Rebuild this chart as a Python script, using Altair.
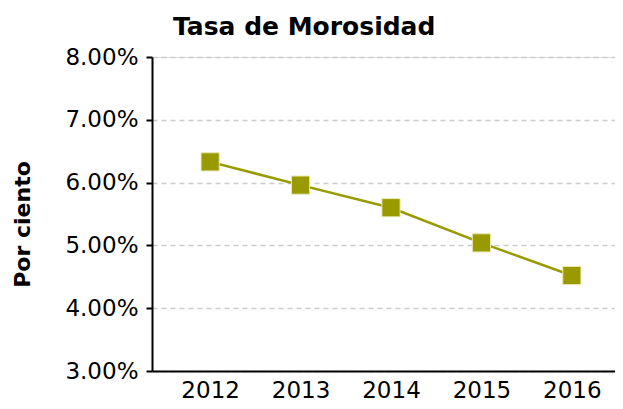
import altair as alt
import pandas as pd

years = ["2012", "2013", "2014", "2015", "2016"]
tasa = [0.0633, 0.0596, 0.0560, 0.0504, 0.0452]

df = pd.DataFrame({"Año": years, "Tasa": tasa})

FONT = "DejaVu Sans"
OLIVE = "#999900"

base = alt.Chart(df).encode(
    x=alt.X(
        "Año:O",
        scale=alt.Scale(type="point", padding=0.56, align=0.574),
        axis=alt.Axis(
            title=None, labelAngle=0, ticks=False, grid=False,
            domainColor="#000000", domainWidth=2,
            labelFontSize=23, labelFont=FONT, labelColor="#000000",
            labelPadding=8,
        ),
    ),
    y=alt.Y(
        "Tasa:Q",
        scale=alt.Scale(domain=[0.03, 0.08], nice=False, zero=False),
        axis=alt.Axis(
            title="Por ciento", format=".2%", values=[0.03, 0.04, 0.05, 0.06, 0.07, 0.08],
            grid=True, gridColor="#cccccc", gridDash=[5, 4], gridWidth=1.5,
            domainColor="#000000", domainWidth=2,
            tickColor="#000000", tickSize=6, tickWidth=2,
            labelFontSize=23, labelFont=FONT, labelColor="#000000", labelPadding=8,
            titleFontSize=22, titleFont=FONT, titleFontWeight="bold",
            titleColor="#000000", titlePadding=30, titleY=167,
        ),
    ),
)

line = base.mark_line(color=OLIVE, strokeWidth=2.5)
pts = base.mark_point(
    shape="square", filled=True, size=330, color=OLIVE, opacity=1,
    stroke="#e8e8b0", strokeWidth=1,
)

chart = (
    alt.layer(line, pts)
    .properties(
        width=463,
        height=314,
        autosize=alt.AutoSizeParams(type="none"),
        padding={"left": 144, "top": 49, "right": 0, "bottom": 30},
        title=alt.TitleParams(
            "Tasa de Morosidad", anchor="start", frame="group", dx=21, offset=6,
            font=FONT, fontSize=25, fontWeight="bold", color="#000000",
        ),
    )
    .configure_view(stroke=None)
    .configure(background="white")
)

chart.save("out.html", embed_options={"renderer": "svg", "actions": False})
